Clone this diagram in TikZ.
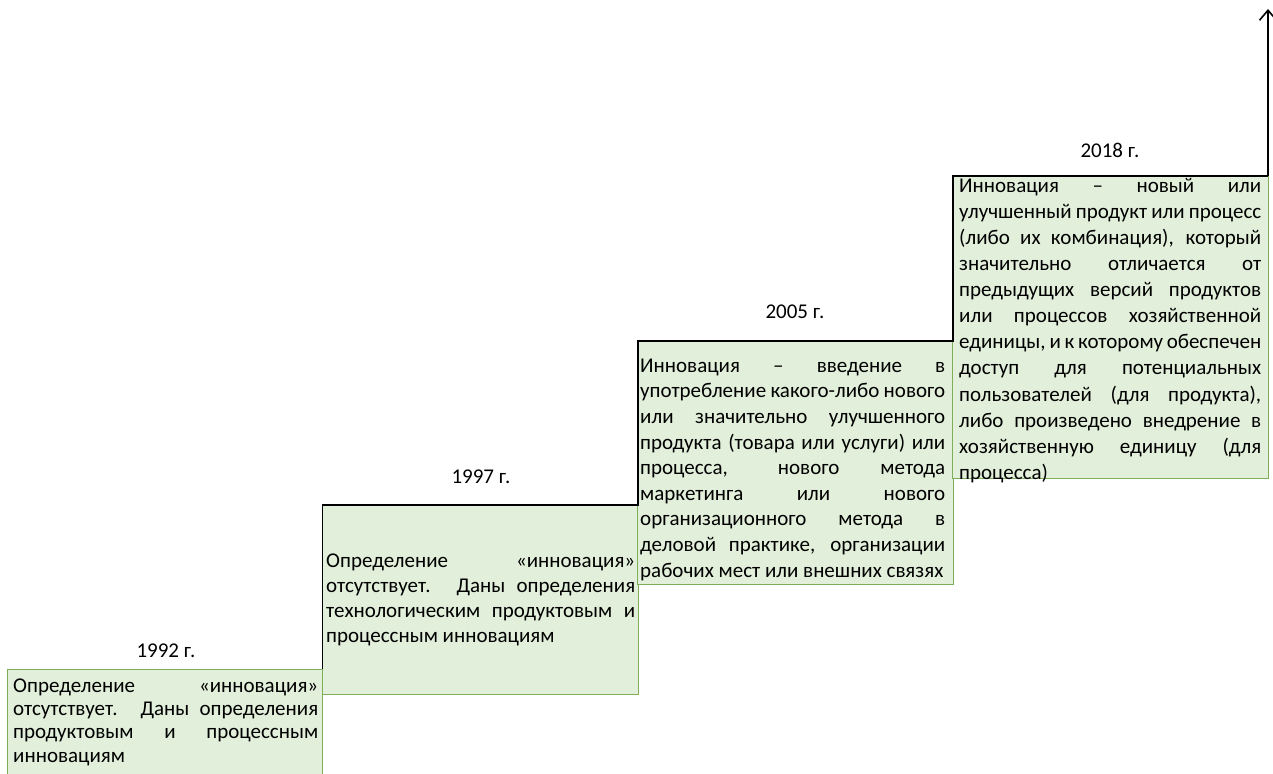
\documentclass[tikz,border=0pt]{standalone}
\usepackage{fontspec}
\setmainfont{Carlito}
\usetikzlibrary{arrows.meta}
\definecolor{boxfill}{HTML}{E2EFDA}
\definecolor{boxline}{HTML}{7DAF5A}
\tolerance=10000
\hbadness=10000
\hfuzz=5pt
\tikzset{
  stepbox/.style={draw=boxline, fill=boxfill, line width=1pt, inner sep=0pt, outer sep=0pt, anchor=north west},
  steptext/.style={anchor=north west, inner sep=0pt, align=justify, font=\fontsize{21}{#1}\selectfont},
  yearlabel/.style={anchor=base, inner sep=0pt, font=\fontsize{21}{25}\selectfont},
  stair/.style={draw=black, line width=1.6pt},
}
\newcommand{\firstln}{\noindent\rule{0pt}{18pt}}
\begin{document}
\begin{tikzpicture}[x=1pt, y=-1pt]
\path[use as bounding box] (0,0) rectangle (1273,773);
\clip (0,0) rectangle (1273,773);
% boxes
\node[stepbox, minimum width=315pt, minimum height=130pt] (b1) at (7,669) {};
\node[stepbox, minimum width=315.5pt, minimum height=189pt] (b2) at (322.5,505) {};
\node[stepbox, minimum width=315.5pt, minimum height=243pt] (b3) at (637.5,341) {};
\node[stepbox, minimum width=315.5pt, minimum height=302pt] (b4) at (952.5,176) {};
% texts
\node[steptext=23.3pt, text width=305pt] (t1) at (13,674) {\firstln Определение «инновация»\linebreak отсутствует. Даны определения\linebreak продуктовым и процессным\linebreak инновациям\par};
\node[steptext=25pt, text width=309pt] (t2) at (326,549) {\firstln Определение «инновация»\linebreak отсутствует. Даны определения\linebreak технологическим продуктовым и\linebreak процессным инновациям\par};
\node[steptext=25.6pt, text width=305pt] (t3) at (640,354) {\firstln Инновация – введение в\linebreak употребление какого-либо нового\linebreak или значительно улучшенного\linebreak продукта (товара или услуги) или\linebreak процесса, нового метода\linebreak маркетинга или нового\linebreak организационного метода в\linebreak деловой практике, организации\linebreak рабочих мест или внешних связях\par};
\node[steptext=26.1pt, text width=302pt] (t4) at (959,174) {\firstln Инновация – новый или\linebreak улучшенный продукт или процесс\linebreak (либо их комбинация), который\linebreak значительно отличается от\linebreak предыдущих версий продуктов\linebreak или процессов хозяйственной\linebreak единицы, и к которому обеспечен\linebreak доступ для потенциальных\linebreak пользователей (для продукта),\linebreak либо произведено внедрение в\linebreak хозяйственную единицу (для\linebreak процесса)\par};
% year labels
\node[yearlabel] (y1) at (166,657) {1992 г.};
\node[yearlabel] (y2) at (481,483) {1997 г.};
\node[yearlabel] (y3) at (795,318) {2005 г.};
\node[yearlabel] (y4) at (1110,157) {2018 г.};
% staircase
\coordinate (s1) at (322.5,669);
\coordinate (s2) at (322.5,505);
\coordinate (s3) at (638,505);
\coordinate (s4) at (638,341);
\coordinate (s5) at (953,341);
\coordinate (s6) at (953,176);
\coordinate (s7) at (1268,176);
\coordinate (tip) at (1268,9);
\draw[stair] (s1) -- (s2) -- (s3) -- (s4) -- (s5) -- (s6) -- (s7);
\draw[stair, -{Straight Barb[length=10pt, width=17pt, line width=1.6pt]}] (s7) -- (tip);
\end{tikzpicture}
\end{document}
